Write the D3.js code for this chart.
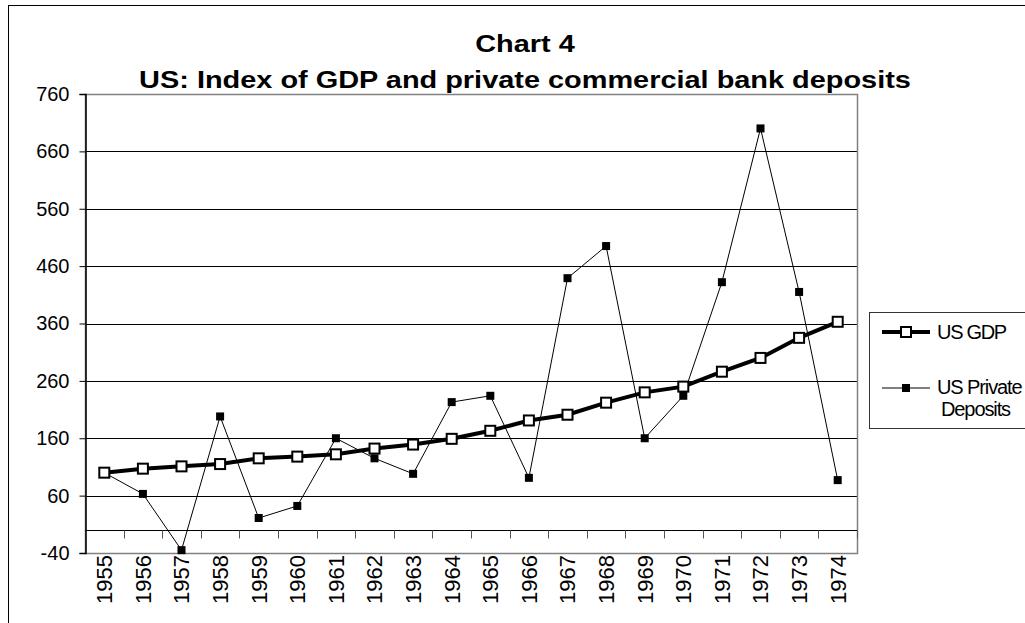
<!DOCTYPE html>
<html>
<head>
<meta charset="utf-8">
<script src="https://cdn.jsdelivr.net/npm/d3@7"></script>
<style>
  body { margin: 0; background: #fff; }
  text { font-family: "Liberation Sans", Arial, sans-serif; fill: #000; }
</style>
</head>
<body>
<div id="chart"></div>
<script>
// data
var years = ["1955", "1956", "1957", "1958", "1959", "1960", "1961", "1962", "1963", "1964",
  "1965", "1966", "1967", "1968", "1969", "1970", "1971", "1972", "1973", "1974"];
var gdp = [100, 107, 111, 115, 125, 128, 132, 142, 149, 159,
  173, 191, 201, 222, 240, 250, 276, 300, 335, 363];
var deposits = [100, 63, -35, 198, 21, 42, 160, 125, 98, 223,
  234, 91, 439, 495, 160, 234, 432, 700, 415, 87];
var yTicks = [-40, 60, 160, 260, 360, 460, 560, 660, 760];
var seriesNames = ["US GDP", "US Private Deposits"];

var W = 1025, H = 623;
var plot = { left: 85, right: 857, top: 94, bottom: 553 };

var svg = d3.select("#chart").append("svg")
  .attr("width", W)
  .attr("height", H);

// chart area border (runs off the right / bottom of the picture)
svg.append("rect")
  .attr("x", 8.5).attr("y", 5.5)
  .attr("width", 1100).attr("height", 700)
  .attr("fill", "none").attr("stroke", "#000");

var x = d3.scaleBand()
  .domain(years)
  .range([plot.left, plot.right]);

var y = d3.scaleLinear()
  .domain([-40, 760])
  .range([plot.bottom, plot.top]);

// gridlines
svg.append("g")
  .selectAll("line")
  .data(yTicks.slice(1, -1))
  .enter().append("line")
  .attr("x1", plot.left).attr("x2", plot.right)
  .attr("y1", d => Math.round(y(d)) + 0.5)
  .attr("y2", d => Math.round(y(d)) + 0.5)
  .attr("stroke", "#000");

// plot area border (grey)
svg.append("rect")
  .attr("x", plot.left + 0.5).attr("y", plot.top + 0.5)
  .attr("width", plot.right - plot.left)
  .attr("height", plot.bottom - plot.top)
  .attr("fill", "none")
  .attr("stroke", "#808080")
  .attr("stroke-width", 1.5);

// y axis
var yAxis = svg.append("g")
  .attr("transform", "translate(" + (plot.left + 0.5) + ",0)")
  .call(d3.axisLeft(y).tickValues(yTicks).tickSize(6).tickPadding(10)
    .tickFormat(d => String(d)));
yAxis.select(".domain").attr("stroke", "#000").attr("stroke-width", 1.5);
yAxis.selectAll(".tick line").attr("stroke", "#000");
yAxis.selectAll("text")
  .style("font-family", "'Liberation Sans', Arial, sans-serif")
  .style("font-size", "20px")
  .attr("fill", "#000");

// x axis sits at value 0, ticks between categories
var y0 = Math.round(y(0)) + 0.5;
svg.append("line")
  .attr("x1", plot.left).attr("x2", plot.right)
  .attr("y1", y0).attr("y2", y0)
  .attr("stroke", "#000");
svg.append("g")
  .selectAll("line")
  .data(years.slice(1).concat(["end"]))
  .enter().append("line")
  .attr("x1", (d, i) => Math.round(x(years[0]) + x.step() * (i + 1)) + 0.5)
  .attr("x2", (d, i) => Math.round(x(years[0]) + x.step() * (i + 1)) + 0.5)
  .attr("y1", y0).attr("y2", y0 + 8)
  .attr("stroke", "#555");

// year labels
svg.append("g")
  .selectAll("text")
  .data(years)
  .enter().append("text")
  .attr("transform", d => "translate(" + (x(d) + x.bandwidth() / 2) + "," + (plot.bottom + 2) + ")rotate(-90)")
  .attr("text-anchor", "end")
  .attr("dy", "0.36em")
  .style("font-size", "22px")
  .text(d => d);

// lines
var line = d3.line()
  .x((d, i) => x(years[i]) + x.bandwidth() / 2)
  .y(d => y(d));

svg.append("path")
  .datum(deposits)
  .attr("d", line)
  .attr("fill", "none")
  .attr("stroke", "#000")
  .attr("stroke-width", 1);

svg.append("g")
  .selectAll("rect")
  .data(deposits)
  .enter().append("rect")
  .attr("x", (d, i) => x(years[i]) + x.bandwidth() / 2 - 4)
  .attr("y", d => y(d) - 4)
  .attr("width", 8).attr("height", 8)
  .attr("fill", "#000");

svg.append("path")
  .datum(gdp)
  .attr("d", line)
  .attr("fill", "none")
  .attr("stroke", "#000")
  .attr("stroke-width", 4);

svg.append("g")
  .selectAll("rect")
  .data(gdp)
  .enter().append("rect")
  .attr("x", (d, i) => x(years[i]) + x.bandwidth() / 2 - 5)
  .attr("y", d => y(d) - 5)
  .attr("width", 10).attr("height", 10)
  .attr("fill", "#fff")
  .attr("stroke", "#000")
  .attr("stroke-width", 2);

// title
var title = svg.append("g")
  .attr("transform", "translate(525,0)scale(1.18,1)");
title.append("text")
  .attr("y", 52)
  .attr("text-anchor", "middle")
  .style("font-size", "24.5px")
  .style("font-weight", "bold")
  .text("Chart 4");
title.append("text")
  .attr("y", 88)
  .attr("text-anchor", "middle")
  .style("font-size", "24.5px")
  .style("font-weight", "bold")
  .text("US: Index of GDP and private commercial bank deposits");

// legend
var legend = svg.append("g").attr("transform", "translate(869,312)");
legend.append("rect")
  .attr("x", 0.5).attr("y", 0.5)
  .attr("width", 300).attr("height", 116)
  .attr("fill", "#fff")
  .attr("stroke", "#333");

legend.append("line")
  .attr("x1", 13).attr("x2", 61).attr("y1", 20).attr("y2", 20)
  .attr("stroke", "#000").attr("stroke-width", 4);
legend.append("rect")
  .attr("x", 32).attr("y", 15).attr("width", 10).attr("height", 10)
  .attr("fill", "#fff").attr("stroke", "#000").attr("stroke-width", 2);
legend.append("text")
  .attr("x", 68).attr("y", 27)
  .style("font-size", "20px")
  .style("letter-spacing", "-1.3px")
  .text(seriesNames[0]);

legend.append("line")
  .attr("x1", 13).attr("x2", 61).attr("y1", 76).attr("y2", 76)
  .attr("stroke", "#000").attr("stroke-width", 1);
legend.append("rect")
  .attr("x", 33).attr("y", 72).attr("width", 8).attr("height", 8)
  .attr("fill", "#000");
var t2 = legend.append("text")
  .attr("x", 68).attr("y", 82)
  .style("font-size", "20px")
  .style("letter-spacing", "-1.1px");
t2.append("tspan").attr("x", 68).text(seriesNames[1].split(" ").slice(0, 2).join(" "));
t2.append("tspan").attr("x", 72).attr("dy", 22).text(seriesNames[1].split(" ")[2]);
</script>
</body>
</html>
